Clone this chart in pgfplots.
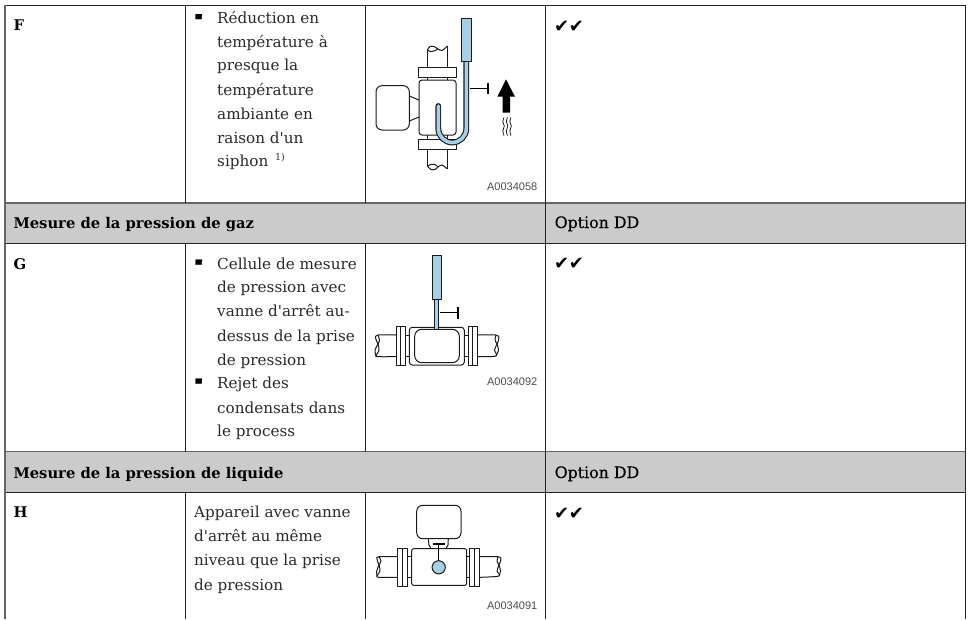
\documentclass[border=0pt]{standalone}
\usepackage{pgfplots}
\pgfplotsset{compat=1.18}
\usepackage{fontspec}
\setmainfont{DejaVu Serif}[Ligatures=TeXOff]
\newfontfamily\medf{DejaVu Serif}[FakeBold=0.2]
\newfontfamily\sym{DejaVu Sans}
\newfontfamily\codef{Liberation Sans}
\definecolor{band}{HTML}{CBCBCB}
\definecolor{pale}{HTML}{A9CFE5}
\definecolor{ink}{HTML}{1A1A1A}
\definecolor{rule}{HTML}{222222}
\definecolor{rulegray}{HTML}{666666}
\definecolor{txt}{HTML}{2A2A2A}
\newcommand{\body}[3]{\node[anchor=base west,inner sep=0pt,text=txt,font=\fontsize{15.2}{17}\selectfont] at (axis cs:#1,#2) {#3};}
\newcommand{\bold}[3]{\node[anchor=base west,inner sep=0pt,text=black,font=\fontsize{14.75}{17}\selectfont\bfseries] at (axis cs:#1,#2) {#3};}
\newcommand{\opt}[2]{\node[anchor=base west,inner sep=0pt,text=black,font=\fontsize{15.8}{17}\selectfont\medf] at (axis cs:554.5,#1) {#2};}
\newcommand{\acode}[3]{\node[anchor=base east,inner sep=0pt,text=black!70,font=\fontsize{11}{12}\selectfont\codef] at (axis cs:#1,#2) {#3};}
\newcommand{\chk}[1]{\node[anchor=base west,inner sep=0pt,text=black,font=\fontsize{18}{18}\selectfont\sym] at (axis cs:554,#1) {\char"2714\kern-0.5pt\char"2714};}
\newcommand{\rect}[5]{\addplot[no markers,draw=ink,line width=1pt,#1] coordinates {(#2,#3)(#4,#3)(#4,#5)(#2,#5)} --cycle;}
\newcommand{\bullets}[1]{\addplot[no markers,fill=black,draw=black,line width=0.3pt] coordinates {(195.5,#1-9.3)(202,#1-9.3)(201.5,#1-4.5)(195.5,#1-4.5)} --cycle;}
\begin{document}
\begin{tikzpicture}
\begin{axis}[
  width=968pt,height=619pt,scale only axis,hide axis,
  xmin=0,xmax=968,ymin=0,ymax=619,y dir=reverse,clip=true,
  line cap=butt,line join=round]
% page background sets the extent
\addplot[no markers,fill=white,draw=none] coordinates {(0,0)(968,0)(968,619)(0,619)} --cycle;
% bands
\addplot[no markers,fill=band,draw=none] coordinates {(5,203)(965,203)(965,243)(5,243)} --cycle;
\addplot[no markers,fill=band,draw=none] coordinates {(5,452)(965,452)(965,493)(5,493)} --cycle;
% horizontal rules
\addplot[no markers,color=rule,line width=1pt] coordinates {(5,5.3)(965,5.3)};
\addplot[no markers,color=rulegray,line width=1.2pt] coordinates {(5,203)(965,203)};
\addplot[no markers,color=rule,line width=1pt] coordinates {(5,243.3)(965,243.3)};
\addplot[no markers,color=rulegray,line width=1.2pt] coordinates {(5,451.7)(965,451.7)};
\addplot[no markers,color=rule,line width=1pt] coordinates {(5,492.7)(965,492.7)};
% vertical rules
\addplot[no markers,color=rulegray,line width=1.2pt] coordinates {(5,5)(5,619)};
\addplot[no markers,color=rule,line width=1pt] coordinates {(965,5)(965,619)};
\addplot[no markers,color=rule,line width=1pt] coordinates {(545.5,5)(545.5,619)};
\addplot[no markers,color=rule,line width=1pt] coordinates {(185.3,5)(185.3,203)};
\addplot[no markers,color=rule,line width=1pt] coordinates {(185.3,243)(185.3,452)};
\addplot[no markers,color=rule,line width=1pt] coordinates {(185.3,493)(185.3,619)};
\addplot[no markers,color=rule,line width=1pt] coordinates {(365.5,5)(365.5,203)};
\addplot[no markers,color=rule,line width=1pt] coordinates {(365.5,243)(365.5,452)};
\addplot[no markers,color=rule,line width=1pt] coordinates {(365.5,493)(365.5,619)};
% bullets
\bullets{23.5}\bullets{269}\bullets{388}
% ===== Diagram F =====
\addplot[no markers,draw=ink,line width=1pt,rounded corners=6pt] coordinates {(376,85.7)(409.3,85.7)(409.3,130)(376,130)} --cycle;
\addplot[no markers,draw=ink,line width=1pt] coordinates {(409.3,96)(419,100)};
\addplot[no markers,draw=ink,line width=1pt] coordinates {(409.3,121)(419,117)};
\addplot[no markers,draw=ink,line width=1pt,rounded corners=3pt] coordinates {(419,80)(456,80)(456,135)(419,135)} --cycle;
\rect{}{418.3}{67.7}{456.7}{77.3}
\rect{}{418.3}{139.3}{456.7}{149}
\addplot[no markers,draw=ink,line width=1pt] coordinates {(427.3,77.3)(427.3,80)};
\addplot[no markers,draw=ink,line width=1pt] coordinates {(447.3,77.3)(447.3,80)};
\addplot[no markers,draw=ink,line width=1pt] coordinates {(427.3,135)(427.3,139.3)};
\addplot[no markers,draw=ink,line width=1pt] coordinates {(447.3,135)(447.3,139.3)};
\addplot[no markers,draw=ink,line width=1pt] coordinates {(427.3,67.7)(427.3,50)};
\addplot[no markers,draw=ink,line width=1pt] coordinates {(447.3,67.7)(447.3,46)};
\addplot[no markers,draw=ink,line width=1pt,smooth] coordinates {(427.3,50)(430,46.5)(434,46.5)(438,49)(442,50.5)(447.3,46)};
\addplot[no markers,draw=ink,line width=1pt,smooth] coordinates {(427.3,50)(430,51.5)(434,51)(438,49)};
\addplot[no markers,draw=ink,line width=1pt] coordinates {(427.3,149)(427.3,166)};
\addplot[no markers,draw=ink,line width=1pt] coordinates {(447.3,149)(447.3,169)};
\addplot[no markers,draw=ink,line width=1pt,smooth] coordinates {(427.3,166)(431,169.5)(435,169.5)(438,167)(442,165)(447.3,169)};
\addplot[no markers,draw=ink,line width=1pt,smooth] coordinates {(427.3,166)(431,164.5)(435,164.5)(438,167)};
% siphon tube
\addplot[no markers,draw=ink,line width=5.8pt,line cap=round,rounded corners=14pt] coordinates {(466.3,61)(466.3,142.5)(438.3,142.5)(438.3,106)};
\addplot[no markers,draw=pale,line width=3.6pt,line cap=round,rounded corners=14pt] coordinates {(466.3,61)(466.3,142.5)(438.3,142.5)(438.3,106)};
\rect{fill=pale}{461.3}{18.3}{471.3}{61.7}
\addplot[no markers,draw=black,line width=1.5pt] coordinates {(470,88.3)(488.3,88.3)};
\addplot[no markers,draw=black,line width=2pt] coordinates {(488.3,82.7)(488.3,94.3)};
\addplot[no markers,fill=black,draw=none] coordinates {(506,79.3)(515,96.7)(510,96.7)(510,112.7)(502.7,112.7)(502.7,96.7)(497.3,96.7)} --cycle;
\addplot[no markers,draw=ink,line width=0.8pt,smooth] coordinates {(504,117.5)(502.8,121.5)(504.3,126)(502.8,131)(504,135.5)};
\addplot[no markers,draw=ink,line width=0.8pt,smooth] coordinates {(507.5,117.5)(506.3,121.5)(507.8,126)(506.3,131)(507.5,135.5)};
\addplot[no markers,draw=ink,line width=0.8pt,smooth] coordinates {(511,117.5)(509.8,121.5)(511.3,126)(509.8,131)(511,135.5)};
% ===== Diagram G =====
\addplot[no markers,draw=ink,line width=1pt,rounded corners=3pt] coordinates {(409.3,327.3)(464.3,327.3)(464.3,365)(409.3,365)} --cycle;
\addplot[no markers,draw=ink,line width=1pt,rounded corners=7pt] coordinates {(414.7,329.3)(459.3,329.3)(459.3,362.7)(414.7,362.7)} --cycle;
\rect{}{396}{326.7}{405.7}{365}
\rect{}{468}{326.7}{477.7}{365}
\addplot[no markers,draw=ink,line width=0.7pt] coordinates {(400.8,326.7)(400.8,365)};
\addplot[no markers,draw=ink,line width=0.7pt] coordinates {(472.8,326.7)(472.8,365)};
\rect{}{405.7}{335}{409.3}{356.7}
\rect{}{464.3}{335}{468}{356.7}
\addplot[no markers,draw=ink,line width=1pt,smooth] coordinates {(396,335)(378,335)(375.5,338)(378,344)(379,350)(376,356)(378,356.7)(396,356.7)};
\addplot[no markers,draw=ink,line width=1pt,smooth] coordinates {(378,335)(379.5,340)(378,344)(375,350)(376,356)};
\addplot[no markers,draw=ink,line width=1pt,smooth] coordinates {(477.7,335)(496,335)(499,338)(497,344)(494.5,350)(496,356)(478,356.7)};
\addplot[no markers,draw=ink,line width=1pt,smooth] coordinates {(496,335)(495,340)(497,344)(498.5,350)(496,356)};
\addplot[no markers,draw=ink,line width=5pt] coordinates {(436.7,299)(436.7,329.3)};
\addplot[no markers,draw=pale,line width=3.4pt] coordinates {(436.7,299)(436.7,329)};
\rect{fill=pale}{432}{255.7}{441.3}{299.3}
\addplot[no markers,draw=black,line width=1.5pt] coordinates {(440,312.7)(458.3,312.7)};
\addplot[no markers,draw=black,line width=2pt] coordinates {(458.3,307.3)(458.3,319)};
% ===== Diagram H =====
\addplot[no markers,draw=ink,line width=1pt,rounded corners=6pt] coordinates {(416.7,505.3)(461,505.3)(461,538.7)(416.7,538.7)} --cycle;
\addplot[no markers,draw=ink,line width=1pt] coordinates {(428.3,538.7)(429,545)(431,548.7)};
\addplot[no markers,draw=ink,line width=1pt] coordinates {(448.3,538.7)(448,545)(446,548.7)};
\addplot[no markers,draw=ink,line width=1pt,rounded corners=2pt] coordinates {(411.7,548.7)(466.7,548.7)(466.7,585.3)(411.7,585.3)} --cycle;
\rect{}{397.7}{548.3}{407.7}{586}
\rect{}{469.3}{548.3}{479.7}{586}
\addplot[no markers,draw=ink,line width=0.7pt] coordinates {(402.7,548.3)(402.7,586)};
\addplot[no markers,draw=ink,line width=0.7pt] coordinates {(474.5,548.3)(474.5,586)};
\rect{}{407.7}{556.7}{411.7}{577.3}
\rect{}{466.7}{556.7}{469.3}{577.3}
\addplot[no markers,draw=ink,line width=1pt,smooth] coordinates {(397.7,556.7)(379,556.7)(377,559)(379,565)(380,571)(377,576)(379,577.3)(397.7,577.3)};
\addplot[no markers,draw=ink,line width=1pt,smooth] coordinates {(379,556.7)(381,561)(379,565)(376.7,571)(377,576)};
\addplot[no markers,draw=ink,line width=1pt,smooth] coordinates {(479.7,556.7)(498,556.7)(501,559)(499,565)(497,571)(499,576)(479.7,577.3)};
\addplot[no markers,draw=ink,line width=1pt,smooth] coordinates {(498,556.7)(497,561)(499,565)(500.5,571)(499,576)};
\addplot[no markers,draw=black,line width=2pt] coordinates {(432.7,544)(445,544)};
\addplot[no markers,draw=black,line width=1.5pt] coordinates {(438.7,544)(438.7,562)};
\addplot[no markers,draw=ink,line width=1pt,fill=pale,smooth cycle] coordinates {(445.4,567.3)(443.4,572)(438.7,574)(434,572)(432,567.3)(434,562.6)(438.7,560.6)(443.4,562.6)};
% ===== Text =====
\bold{13.5}{30.5}{F}
\bold{13.5}{269}{G}
\bold{13.5}{517}{H}
\bold{13.3}{228}{Mesure de la pression de gaz}
\bold{13.3}{478}{Mesure de la pression de liquide}
\opt{228}{Option DD}
\opt{478}{Option DD}
\chk{32}\chk{269}\chk{519}
\body{217}{23.5}{Réduction en}
\body{217}{47}{température à}
\body{217}{70.7}{presque la}
\body{217}{95}{température}
\body{217}{119}{ambiante en}
\body{217}{143}{raison d'un}
\body{217}{166}{siphon}
\node[anchor=base west,inner sep=0pt,text=txt,font=\fontsize{9.5}{10}\selectfont] at (axis cs:275,160) {1)};
\body{217}{269}{Cellule de mesure}
\body{217}{292.7}{de pression avec}
\body{217}{316.7}{vanne d'arrêt au-}
\body{217}{341}{dessus de la prise}
\body{217}{365}{de pression}
\body{217}{388}{Rejet des}
\body{217}{413}{condensats dans}
\body{217}{436.7}{le process}
\body{194}{517.3}{Appareil avec vanne}
\body{194}{541}{d'arrêt au même}
\body{194}{565.7}{niveau que la prise}
\body{194}{590}{de pression}
\acode{537.5}{190.7}{A0034058}
\acode{537.5}{385.7}{A0034092}
\acode{537.5}{609}{A0034091}
\end{axis}
\end{tikzpicture}
\end{document}
